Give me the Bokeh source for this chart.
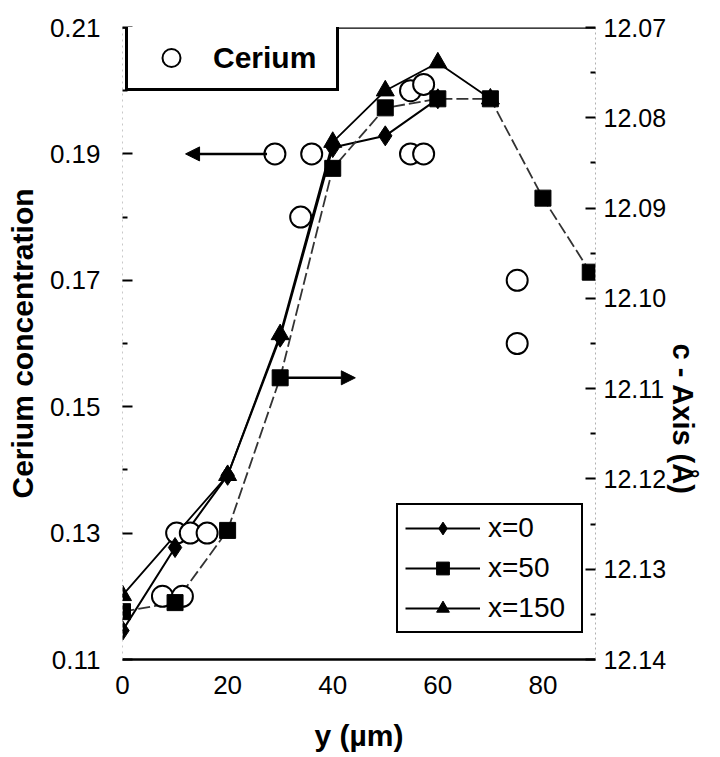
import numpy as np
from bokeh.plotting import figure
from bokeh.models import (Range1d, LinearAxis, Legend, LegendItem, Arrow, NormalHead,
                          Span, FixedTicker, NumeralTickFormatter)
from bokeh.embed import file_html
from bokeh.resources import INLINE

# ---------------- data ----------------
# Cerium concentration (left axis) vs y (um)
cerium_pos = [7.6, 11.4, 10.3, 12.9, 16.1, 29.0, 33.9, 36.0, 54.8, 57.3, 54.8, 57.3, 75.1, 75.1]
cerium_conc = [0.120, 0.120, 0.130, 0.130, 0.130, 0.190, 0.180, 0.190, 0.190, 0.190, 0.200, 0.201, 0.170, 0.160]

# c-axis (right axis, Angstrom) vs y (um)
x0_pos = [0, 10, 20, 30, 40, 50, 60]
x0_c = [12.1368, 12.1276, 12.1196, 12.1043, 12.0833, 12.0820, 12.0779]

x50_pos = [0, 10, 20, 30, 40, 50, 60, 70, 80, 89]
x50_c = [12.1347, 12.1337, 12.1257, 12.1088, 12.0856, 12.0789, 12.0779, 12.0779, 12.0889, 12.0971]

x150_pos = [0, 20, 30, 40, 50, 60, 70]
x150_c = [12.1329, 12.1196, 12.1040, 12.0827, 12.0770, 12.0739, 12.0779]

# axes
x_ticks = [0, 20, 40, 60, 80]
left_ticks = [0.11, 0.13, 0.15, 0.17, 0.19, 0.21]
left_minor = [0.12, 0.14, 0.16, 0.18, 0.20]
right_ticks = [12.07, 12.08, 12.09, 12.10, 12.11, 12.12, 12.13, 12.14]
right_minor = [12.075, 12.085, 12.095, 12.105, 12.115, 12.125, 12.135]

# arrows
arrow_left = dict(x_start=27.5, x_end=12.0, y=0.19)
arrow_right = dict(x_start=31.4, x_end=44.3, y=12.1088)

FONT = "Liberation Sans"

p = figure(width=720, height=757, x_range=Range1d(0, 90), y_range=Range1d(0.11, 0.21),
           output_backend="svg", toolbar_location=None,
           min_border_left=122, min_border_right=125, min_border_top=27, min_border_bottom=98)
p.outline_line_color = None
p.xgrid.visible = False
p.ygrid.visible = False
p.background_fill_color = "white"
p.border_fill_color = "white"

p.extra_y_ranges = {"c": Range1d(12.14, 12.07)}

# left axis
ya = p.yaxis[0]
ya.ticker = FixedTicker(ticks=left_ticks, minor_ticks=left_minor)
ya.formatter = NumeralTickFormatter(format="0.00")
ya.major_tick_in = 10
ya.major_tick_out = 0
ya.minor_tick_in = 5
ya.minor_tick_out = 0
ya.major_tick_line_width = 2
ya.minor_tick_line_width = 2
ya.axis_line_color = "#c8c8c8"
ya.axis_line_dash = "2 4"
ya.major_label_text_font = FONT
ya.major_label_text_font_size = "26px"
ya.major_label_text_color = "black"
ya.major_label_standoff = 22
ya.axis_label = "Cerium concentration"
ya.axis_label_text_font = FONT
ya.axis_label_text_font_style = "bold"
ya.axis_label_text_font_size = "30px"
ya.axis_label_text_color = "black"
ya.axis_label_standoff = 8

# bottom axis
xa = p.xaxis[0]
xa.ticker = FixedTicker(ticks=x_ticks)
xa.major_tick_in = 0
xa.major_tick_out = 0
xa.minor_tick_in = 0
xa.minor_tick_out = 0
xa.axis_line_width = 2.5
xa.axis_line_color = "black"
xa.major_label_text_font = FONT
xa.major_label_text_font_size = "26px"
xa.major_label_text_color = "black"
xa.major_label_standoff = 16
xa.axis_label = "y (µm)"
xa.axis_label_text_font = FONT
xa.axis_label_text_font_style = "bold"
xa.axis_label_text_font_size = "30px"
xa.axis_label_text_color = "black"
xa.axis_label_standoff = 22

# right axis
ra = LinearAxis(y_range_name="c")
ra.ticker = FixedTicker(ticks=right_ticks, minor_ticks=right_minor)
ra.formatter = NumeralTickFormatter(format="0.00")
ra.major_tick_in = 10
ra.major_tick_out = 0
ra.minor_tick_in = 5
ra.minor_tick_out = 0
ra.major_tick_line_width = 2
ra.minor_tick_line_width = 2
ra.axis_line_color = "#b0b0b0"
ra.axis_line_dash = "2 3"
ra.major_label_text_font = FONT
ra.major_label_text_font_size = "25px"
ra.major_label_text_color = "black"
ra.major_label_standoff = 8
ra.axis_label = "c - Axis (Å)"
ra.axis_label_text_font = FONT
ra.axis_label_text_font_style = "bold"
ra.axis_label_text_font_size = "29px"
ra.axis_label_text_color = "black"
ra.axis_label_standoff = 14
if "axis_label_orientation" in ra.properties():
    ra.axis_label_orientation = -np.pi / 2
p.add_layout(ra, "right")

# top frame line
p.add_layout(Span(location=0.21, dimension="width", line_color="black", line_width=2.5))

# series lines
l0 = p.line(x0_pos, x0_c, y_range_name="c", line_color="black", line_width=2)
l150 = p.line(x150_pos, x150_c, y_range_name="c", line_color="black", line_width=1.8)
l50 = p.line(x50_pos, x50_c, y_range_name="c", line_color="#333333", line_width=1.8, line_dash="12 4")

# cerium circles
circ = p.scatter(cerium_pos, cerium_conc, marker="circle", size=21, fill_color="white",
                 line_color="black", line_width=2)

# markers
m0 = p.scatter(x0_pos, x0_c, y_range_name="c", marker="diamond", size=20,
               fill_color="black", line_color="black")
m150 = p.scatter(x150_pos, x150_c, y_range_name="c", marker="triangle", size=18,
                 fill_color="black", line_color="black")
m50 = p.scatter(x50_pos, x50_c, y_range_name="c", marker="square", size=16,
                fill_color="black", line_color="black")

# solid sample line for the x=50 legend entry (nothing visible in the plot)
lg50 = p.line([np.nan, np.nan], [np.nan, np.nan], y_range_name="c", line_color="black", line_width=2)

# arrows
p.add_layout(Arrow(end=NormalHead(size=14, fill_color="black", line_color="black"),
                   x_start=arrow_left["x_start"], y_start=arrow_left["y"],
                   x_end=arrow_left["x_end"], y_end=arrow_left["y"],
                   line_width=2.5, line_color="black"))
p.add_layout(Arrow(end=NormalHead(size=14, fill_color="black", line_color="black"),
                   x_start=arrow_right["x_start"], y_start=arrow_right["y"],
                   x_end=arrow_right["x_end"], y_end=arrow_right["y"],
                   y_range_name="c", line_width=2.5, line_color="black"))

# legends
leg1 = Legend(items=[LegendItem(label="Cerium", renderers=[circ])],
              location=(3, 568), orientation="vertical",
              padding=8, glyph_width=70, glyph_height=45, label_standoff=7, label_width=115,
              label_text_font=FONT, label_text_font_style="bold", label_text_font_size="30px",
              label_text_color="black",
              border_line_color="black", border_line_width=3, border_line_alpha=1.0,
              background_fill_color="white", background_fill_alpha=1.0, margin=0, spacing=0)
p.add_layout(leg1)

leg2 = Legend(items=[LegendItem(label="x=0", renderers=[l0, m0]),
                     LegendItem(label="x=50", renderers=[lg50, m50]),
                     LegendItem(label="x=150", renderers=[l150, m150])],
              location=(274, 26), orientation="vertical",
              padding=7, glyph_width=75, glyph_height=32, label_height=32, label_standoff=8,
              label_width=86, spacing=8,
              label_text_font=FONT, label_text_font_size="28px", label_text_color="black",
              border_line_color="black", border_line_width=2.5, border_line_alpha=1.0,
              background_fill_color="white", background_fill_alpha=1.0, margin=0)
p.add_layout(leg2)

open("out.html", "w").write(file_html(p, INLINE))
